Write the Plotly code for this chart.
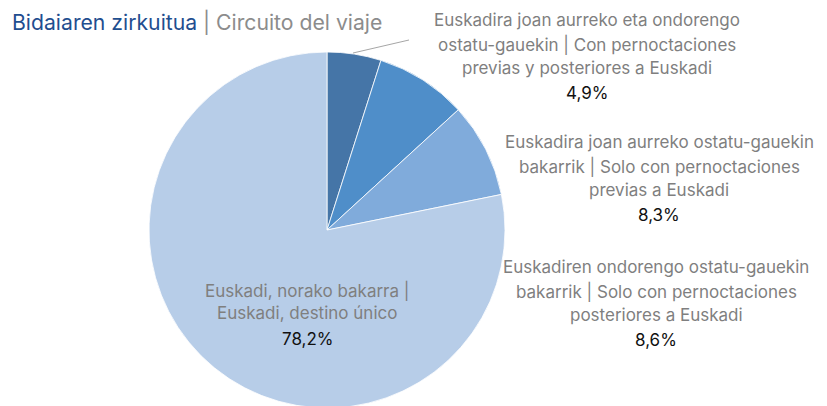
import plotly.graph_objects as go

W, H = 827, 406
OFF = 8  # page body margin shifts the figure by 8px

categories = [
    "Euskadira joan aurreko eta ondorengo ostatu-gauekin | Con pernoctaciones previas y posteriores a Euskadi",
    "Euskadira joan aurreko ostatu-gauekin bakarrik | Solo con pernoctaciones previas a Euskadi",
    "Euskadiren ondorengo ostatu-gauekin bakarrik | Solo con pernoctaciones posteriores a Euskadi",
    "Euskadi, norako bakarra | Euskadi, destino único",
]
values = [4.9, 8.3, 8.6, 78.2]
pct_labels = ["4,9%", "8,3%", "8,6%", "78,2%"]
label_lines = [
    ["Euskadira joan aurreko eta ondorengo", "ostatu-gauekin | Con pernoctaciones",
     "previas y posteriores a Euskadi"],
    ["Euskadira joan aurreko ostatu-gauekin", "bakarrik | Solo con pernoctaciones",
     "previas a Euskadi"],
    ["Euskadiren ondorengo ostatu-gauekin", "bakarrik | Solo con pernoctaciones",
     "posteriores a Euskadi"],
    ["Euskadi, norako bakarra |", "Euskadi, destino único"],
]
colors = ["#4575a7", "#4f8ec9", "#80abdb", "#b7cde8"]

# label placement in screen pixels: (center x, first line y, line step)
label_pos = [(587, 20, 24), (659, 142, 24), (656, 267, 24), (307, 290, 23)]

FONT = "Inter"


def px(x, y):
    return (x - OFF) / W, 1 - (y - OFF) / H


# pie: center (327, 230) on screen, radius 178
cx, cy, r = 327 - OFF, 230 - OFF, 178
fig = go.Figure(
    go.Pie(
        labels=categories,
        values=values,
        sort=False,
        direction="clockwise",
        rotation=0,
        marker=dict(colors=colors, line=dict(color="white", width=0.8)),
        textinfo="none",
        hoverinfo="label+percent",
        showlegend=False,
        domain=dict(x=[(cx - r) / W, (cx + r) / W], y=[1 - (cy + r) / H, 1 - (cy - r) / H]),
    )
)

annotations = []
for lines, pct, (lx, y0, step) in zip(label_lines, pct_labels, label_pos):
    for i, line in enumerate(lines):
        x, y = px(lx, y0 + i * step)
        annotations.append(dict(
            x=x, y=y, xref="paper", yref="paper", text=line, showarrow=False,
            xanchor="center", yanchor="middle",
            font=dict(family=FONT, size=17, color="#7f7f7f"),
        ))
    x, y = px(lx, y0 + len(lines) * step + (1 if len(lines) == 3 else 3))
    annotations.append(dict(
        x=x, y=y, xref="paper", yref="paper", text=pct, showarrow=False,
        xanchor="center", yanchor="middle",
        font=dict(family=FONT, size=17, color="#111111"),
    ))

tx, ty = px(10, 22)
annotations.append(dict(
    x=tx, y=ty, xref="paper", yref="paper", showarrow=False,
    xanchor="left", yanchor="middle",
    text="<span style='color:#1f4e8f'>Bidaiaren zirkuitua</span>"
         "<span style='color:#8c8c8c'> | Circuito del viaje</span>",
    font=dict(family=FONT, size=21.2),
))

x0, y0 = px(353, 53)
x1, y1 = px(409, 40)
fig.add_shape(type="line", xref="paper", yref="paper", x0=x0, y0=y0, x1=x1, y1=y1,
              line=dict(color="#a6a6a6", width=1))

fig.update_layout(
    width=W,
    height=H,
    margin=dict(l=0, r=0, t=0, b=0),
    paper_bgcolor="white",
    plot_bgcolor="white",
    annotations=annotations,
    font=dict(family=FONT),
)

fig.write_html("out.html")
